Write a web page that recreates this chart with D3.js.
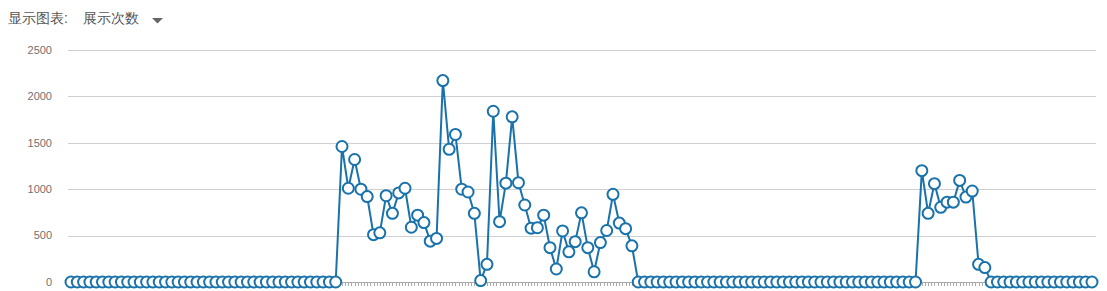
<!DOCTYPE html>
<html>
<head>
<meta charset="utf-8">
<script src="https://cdn.jsdelivr.net/npm/d3@7/dist/d3.min.js"></script>
<style>
  body { margin: 0; background: #fff; }
  #chart text { font-family: "Liberation Sans", Arial, sans-serif; }
  .head { font-family: "Noto Sans CJK SC", sans-serif; font-size: 14px; fill: #555; }
</style>
</head>
<body>
<div id="chart"></div>
<script>
// y axis ticks
var yTicks = [0, 500, 1000, 1500, 2000, 2500];

// impressions per period (163 periods)
var values = [
  0,0,0,0,0,0,0,0,0,0, 0,0,0,0,0,0,0,0,0,0,
  0,0,0,0,0,0,0,0,0,0, 0,0,0,0,0,0,0,0,0,0,
  0,0,0,
  1460,1010,1320,1000,920,510,530,930,740,960,
  1010,590,720,640,440,470,2170,1430,1590,1000,
  970,740,15,190,1840,650,1065,1780,1070,830,
  580,585,720,370,140,550,325,435,745,370,
  110,425,555,945,635,575,390,
  0,0,0,0,0,0,0,0,0,0, 0,0,0,0,0,0,0,0,0,0,
  0,0,0,0,0,0,0,0,0,0, 0,0,0,0,0,0,0,0,0,0,
  0,0,0,0,0,
  1200,740,1060,805,860,860,1095,915,980,190,155,
  0,0,0,0,0,0,0,0,0,0, 0,0,0,0,0,0,0
];
var categories = values.map(function(d, i) { return i; });

var width = 1107, height = 291;
var svg = d3.select("#chart").append("svg")
    .attr("width", width)
    .attr("height", height);

// header
svg.append("text").attr("class", "head").attr("x", 8).attr("y", 23).text("显示图表:");
svg.append("text").attr("class", "head").attr("x", 83).attr("y", 23).text("展示次数");
svg.append("path").attr("d", "M152,18L163,18L157.5,23.5Z").attr("fill", "#666");

var x = d3.scalePoint().domain(categories).range([71, 1092]);
var y = d3.scaleLinear().domain([0, 2500]).range([282, 50]);

// grid lines
svg.append("g").selectAll("line").data(yTicks.filter(function(d) { return d > 0; }))
  .enter().append("line")
    .attr("x1", 68).attr("x2", 1096)
    .attr("y1", function(d) { return Math.round(y(d)) + 0.5; })
    .attr("y2", function(d) { return Math.round(y(d)) + 0.5; })
    .attr("stroke", "#d0d0d0");

// y labels
svg.append("g").selectAll("text").data(yTicks)
  .enter().append("text")
    .attr("x", 52)
    .attr("y", function(d) { return y(d); })
    .attr("dy", "0.35em")
    .attr("text-anchor", "end")
    .attr("font-size", 11)
    .attr("fill", "#707070")
    .text(function(d) { return d; });

// x axis line and ticks
svg.append("line")
  .attr("x1", 68).attr("x2", 1096)
  .attr("y1", 282.5).attr("y2", 282.5)
  .attr("stroke", "#aaa");
var step = x.step();
var half = d3.range(0, categories.length * 2 - 1).map(function(i) { return x(0) + i * step / 2; });
svg.append("g").selectAll("line").data(half)
  .enter().append("line")
    .attr("x1", function(d) { return Math.round(d) + 0.5; })
    .attr("x2", function(d) { return Math.round(d) + 0.5; })
    .attr("y1", 282).attr("y2", 286)
    .attr("stroke", "#aaa");

var color = "#1a72ab";

var line = d3.line()
  .x(function(d, i) { return x(i); })
  .y(function(d) { return y(d); });

svg.append("path")
  .datum(values)
  .attr("d", line)
  .attr("fill", "none")
  .attr("stroke", color)
  .attr("stroke-width", 2);

svg.append("g").selectAll("circle").data(values)
  .enter().append("circle")
    .attr("cx", function(d, i) { return x(i); })
    .attr("cy", function(d) { return y(d); })
    .attr("r", 5.5)
    .attr("fill", "#fff")
    .attr("stroke", color)
    .attr("stroke-width", 2);
</script>
</body>
</html>
